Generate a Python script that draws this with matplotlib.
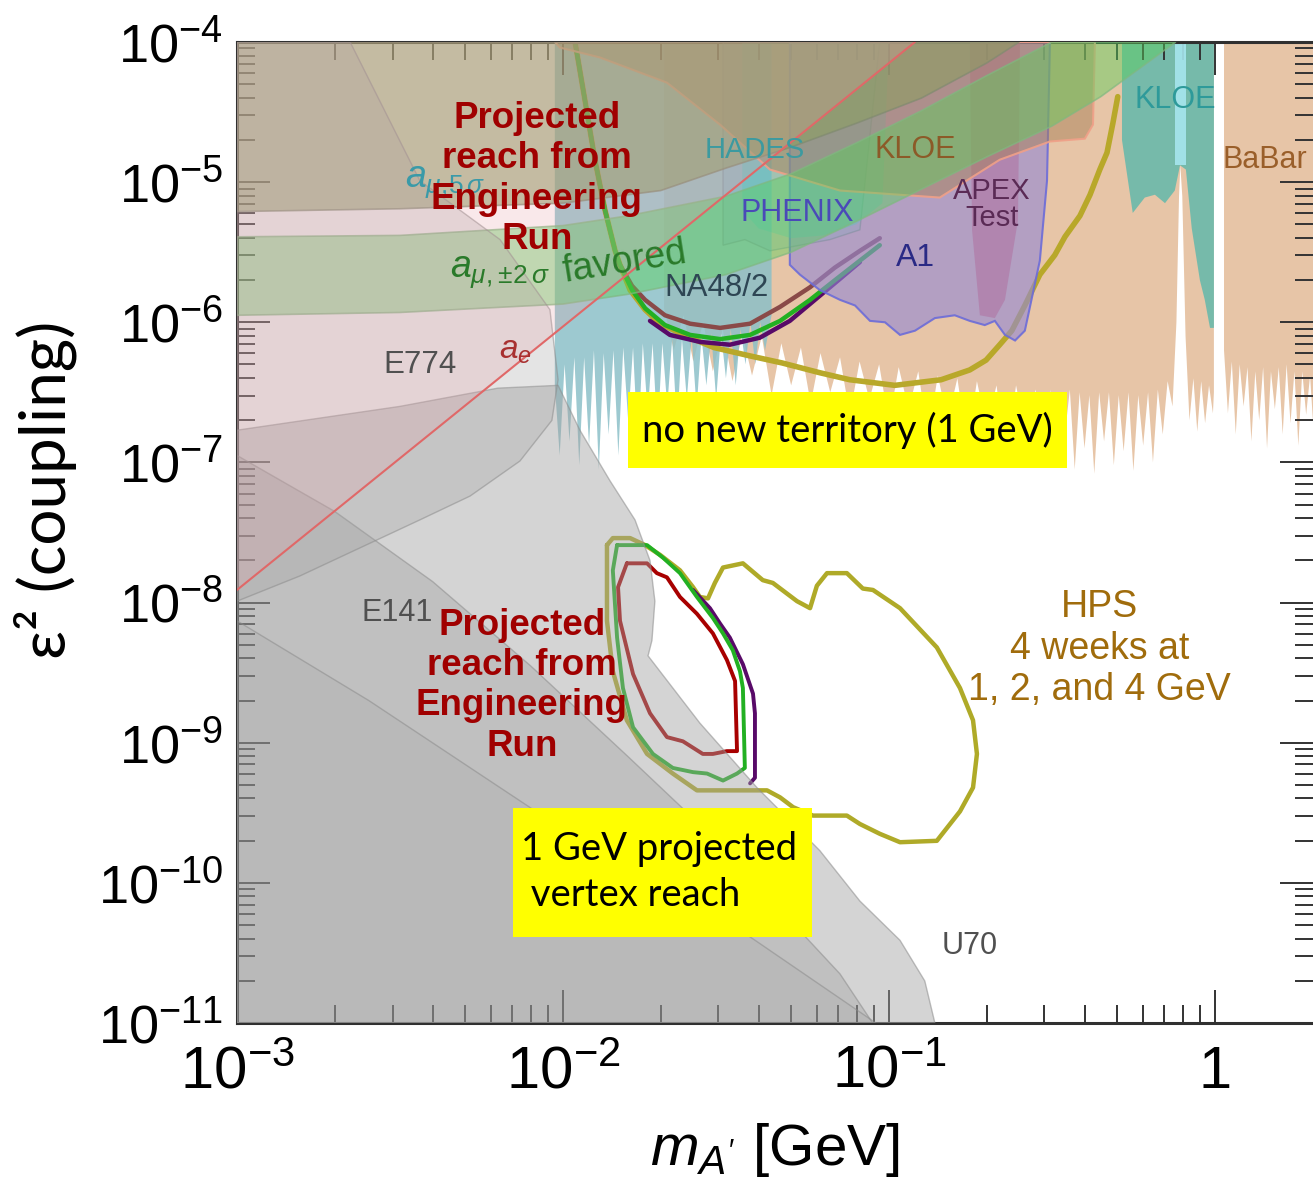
import numpy as np
import matplotlib
matplotlib.use('Agg')
import matplotlib.pyplot as plt
from matplotlib.colors import to_rgba
from matplotlib.patches import Rectangle
from matplotlib.ticker import FixedLocator, FixedFormatter, LogLocator, NullFormatter

plt.rcParams['font.family'] = ['Liberation Sans', 'DejaVu Sans']
plt.rcParams['mathtext.fontset'] = 'custom'
plt.rcParams['mathtext.rm'] = 'Liberation Sans'
plt.rcParams['mathtext.it'] = 'Liberation Sans:italic'
plt.rcParams['mathtext.bf'] = 'Liberation Sans:bold'

# every curve below is (log10 m_A' [GeV], log10 eps^2)

# ---- excluded regions -------------------------------------------------
babar_left = [(-1.69, -5.90), (-1.66, -6.20), (-1.63, -5.95), (-1.60, -6.28), (-1.57, -6.00),
              (-1.54, -6.35), (-1.51, -6.05), (-1.48, -6.42), (-1.45, -6.08), (-1.42, -6.38),
              (-1.39, -6.10), (-1.36, -6.52), (-1.33, -6.15), (-1.30, -6.45), (-1.27, -6.18),
              (-1.24, -6.58), (-1.21, -6.22), (-1.18, -6.50), (-1.15, -6.25), (-1.12, -6.66),
              (-1.09, -6.28), (-1.06, -6.55), (-1.03, -6.30), (-1.00, -6.72), (-0.97, -6.32),
              (-0.94, -6.62), (-0.91, -6.35), (-0.88, -6.82), (-0.85, -6.38), (-0.82, -6.70),
              (-0.79, -6.40), (-0.76, -6.88), (-0.73, -6.42), (-0.70, -6.75), (-0.67, -6.45),
              (-0.64, -6.96), (-0.61, -6.45), (-0.58, -6.80), (-0.55, -6.48),
              (-0.52, -7.02), (-0.505, -6.48), (-0.49, -6.95), (-0.475, -6.50), (-0.46, -6.80),
              (-0.445, -6.48), (-0.43, -7.05), (-0.415, -6.50), (-0.40, -6.90), (-0.385, -6.52),
              (-0.37, -7.08), (-0.355, -6.50), (-0.34, -6.85), (-0.325, -6.50), (-0.31, -7.02),
              (-0.295, -6.52), (-0.28, -6.92), (-0.265, -6.50), (-0.25, -7.06), (-0.235, -6.52),
              (-0.22, -6.88), (-0.205, -6.50), (-0.19, -7.00), (-0.175, -6.48), (-0.16, -6.80),
              (-0.145, -6.42), (-0.13, -6.60), (-0.118, -6.00), (-0.110, -5.10),
              (-0.106, -4.88), (-0.100, -5.10), (-0.090, -6.10), (-0.078, -6.70), (-0.066, -6.40),
              (-0.054, -6.78), (-0.042, -6.42), (-0.030, -6.72), (-0.018, -6.45), (-0.006, -6.65),
              (-0.003, -6.50), (-0.003, -4.0), (-1.69, -4.0)]
babar_right = [(0.028, -4.0), (0.028, -6.20), (0.040, -6.65), (0.052, -6.28), (0.064, -6.80),
               (0.076, -6.30), (0.088, -6.60), (0.100, -6.32), (0.112, -6.85), (0.124, -6.35),
               (0.136, -6.70), (0.148, -6.32), (0.160, -6.90), (0.172, -6.35), (0.184, -6.62),
               (0.196, -6.32), (0.208, -6.80), (0.220, -6.30), (0.232, -6.72), (0.244, -6.35),
               (0.256, -6.88), (0.268, -6.35), (0.280, -6.66), (0.292, -6.38), (0.304, -6.82),
               (0.31, -6.45), (0.31, -4.0)]
na48 = [(-2.025, -4.0), (-2.025, -6.45), (-2.01, -6.95), (-1.995, -6.30), (-1.98, -6.85),
        (-1.965, -6.25), (-1.95, -7.02), (-1.935, -6.25), (-1.92, -6.88), (-1.905, -6.20),
        (-1.89, -7.05), (-1.875, -6.22), (-1.86, -6.80), (-1.845, -6.20), (-1.83, -6.95),
        (-1.815, -6.18), (-1.80, -6.70), (-1.785, -6.18), (-1.77, -6.90), (-1.755, -6.15),
        (-1.74, -6.65), (-1.725, -6.15), (-1.71, -6.80), (-1.695, -6.15), (-1.68, -6.60),
        (-1.665, -6.12), (-1.65, -6.75), (-1.635, -6.12), (-1.62, -6.55), (-1.605, -6.10),
        (-1.59, -6.62), (-1.575, -6.10), (-1.56, -6.45), (-1.545, -6.08), (-1.53, -6.55),
        (-1.515, -6.08), (-1.50, -6.40), (-1.485, -6.05), (-1.47, -6.45), (-1.455, -6.05),
        (-1.44, -6.30), (-1.425, -6.00), (-1.41, -6.30), (-1.395, -6.00), (-1.38, -6.20),
        (-1.36, -5.95), (-1.36, -4.0)]
kloe_phi = [(-0.285, -4.0), (-0.285, -4.70), (-0.252, -5.22), (-0.215, -5.11), (-0.184, -5.09),
            (-0.153, -5.15), (-0.123, -5.06), (-0.107, -4.88), (-0.089, -4.91), (-0.071, -5.33),
            (-0.046, -5.70), (-0.031, -5.84), (-0.015, -6.04), (-0.003, -6.04), (-0.003, -4.0)]
kloe_strip = [(-0.123, -4.0), (-0.123, -4.88), (-0.089, -4.88), (-0.089, -4.0)]
a1 = [(-1.304, -4.0), (-0.506, -4.0), (-0.515, -4.99), (-0.537, -5.56), (-0.583, -6.06),
      (-0.613, -6.13), (-0.644, -6.09), (-0.675, -5.99), (-0.706, -6.02), (-0.752, -5.99),
      (-0.798, -5.95), (-0.859, -5.97), (-0.920, -6.06), (-0.966, -6.09), (-1.012, -6.00),
      (-1.058, -5.99), (-1.104, -5.88), (-1.150, -5.84), (-1.212, -5.77), (-1.273, -5.66),
      (-1.304, -5.59)]
apex = [(-0.752, -4.0), (-0.598, -4.0), (-0.604, -5.27), (-0.644, -5.84), (-0.675, -5.97),
        (-0.721, -5.95), (-0.745, -5.34)]
hades = [(-1.509, -4.0), (-1.509, -5.45), (-1.442, -5.41), (-1.365, -5.49), (-1.273, -5.45),
         (-1.181, -5.41), (-1.089, -5.34), (-1.028, -4.0)]
phenix = [(-1.45, -4.0), (-1.45, -5.20), (-1.40, -5.33), (-1.30, -5.40), (-1.20, -5.38),
          (-1.10, -5.30), (-1.02, -5.15), (-1.00, -4.0)]
kloe = [(-2.025, -4.0), (-2.009, -4.04), (-1.887, -4.11), (-1.681, -4.29), (-1.518, -4.59),
        (-1.365, -4.91), (-1.150, -5.06), (-0.844, -5.11), (-0.660, -4.84), (-0.506, -4.71),
        (-0.399, -4.69), (-0.374, -4.59), (-0.368, -4.0)]
amu_5sigma = [(-3.0, -5.21), (-2.5, -5.19), (-2.0, -5.15), (-1.7, -5.06), (-1.5, -4.90),
              (-1.3, -4.75), (-1.1, -4.58), (-0.9, -4.40), (-0.7, -4.15), (-0.6, -4.0), (-3.0, -4.0)]
amu_favored = [(-3.0, -5.39), (-2.5, -5.38), (-2.0, -5.31), (-1.8, -5.24), (-1.5, -5.10),
               (-1.3, -4.94), (-1.1, -4.72), (-0.9, -4.49), (-0.7, -4.24), (-0.5, -4.0),
               (-0.12, -4.0), (-0.35, -4.39), (-0.5, -4.60), (-0.7, -4.82), (-0.9, -5.05),
               (-1.1, -5.28), (-1.3, -5.50), (-1.5, -5.66), (-1.8, -5.80), (-2.0, -5.87),
               (-2.5, -5.93), (-3.0, -5.95)]
ae_bound = [(-3.0, -7.91), (-0.92, -4.0), (-3.0, -4.0)]

# beam dumps
e774 = [(-3.0, -4.0), (-2.653, -4.0), (-2.439, -4.99), (-2.193, -5.41), (-2.040, -5.91),
        (-2.015, -6.41), (-2.034, -6.70), (-2.132, -6.99), (-2.285, -7.24), (-2.439, -7.41),
        (-2.623, -7.61), (-2.807, -7.81), (-3.0, -7.99)]
e141 = [(-3.0, -6.77), (-2.5, -6.60), (-2.2, -6.47), (-2.015, -6.45), (-1.948, -6.77),
        (-1.856, -7.13), (-1.779, -7.41), (-1.733, -7.70), (-1.718, -7.99), (-1.727, -8.27),
        (-1.739, -8.38), (-1.580, -8.86), (-1.405, -9.32), (-1.212, -9.77), (-1.089, -10.13),
        (-0.966, -10.41), (-0.890, -10.70), (-0.859, -11.0), (-3.0, -11.0)]
e137 = [(-3.0, -6.95), (-2.70, -7.35), (-2.40, -7.85), (-2.10, -8.45), (-1.80, -9.10),
        (-1.55, -9.65), (-1.35, -10.15), (-1.15, -10.65), (-1.05, -11.0), (-3.0, -11.0)]
orsay = [(-3.0, -8.13), (-2.595, -8.70), (-2.083, -9.49), (-1.555, -10.18), (-1.040, -11.0),
         (-3.0, -11.0)]

# ---- HPS projections ----------------------------------------------------
hps_common = [(-1.963, -4.0), (-1.933, -4.41), (-1.902, -4.84), (-1.871, -5.20), (-1.840, -5.49),
              (-1.825, -5.59)]
hps_full = [(-1.794, -5.77), (-1.748, -5.91), (-1.702, -6.01), (-1.610, -6.11), (-1.537, -6.18),
            (-1.426, -6.24), (-1.328, -6.29), (-1.212, -6.36), (-1.120, -6.41), (-0.982, -6.45),
            (-0.840, -6.41), (-0.752, -6.34), (-0.702, -6.27), (-0.660, -6.16), (-0.623, -6.06),
            (-0.583, -5.88), (-0.537, -5.66), (-0.491, -5.52), (-0.460, -5.39), (-0.414, -5.24),
            (-0.383, -5.09), (-0.353, -4.91), (-0.331, -4.79), (-0.313, -4.58), (-0.298, -4.39)]
hps_1gev = [(-1.788, -5.74), (-1.748, -5.84), (-1.687, -5.95), (-1.610, -6.01), (-1.518, -6.04),
            (-1.426, -6.01), (-1.334, -5.89), (-1.242, -5.75), (-1.166, -5.61), (-1.089, -5.49),
            (-1.028, -5.40)]
hps_2gev = [(-1.788, -5.77), (-1.748, -5.90), (-1.687, -6.02), (-1.610, -6.09), (-1.518, -6.12),
            (-1.426, -6.09), (-1.334, -5.99), (-1.242, -5.84), (-1.166, -5.70), (-1.089, -5.56),
            (-1.028, -5.45)]
hps_4gev = [(-1.733, -5.99), (-1.672, -6.09), (-1.580, -6.14), (-1.488, -6.16), (-1.396, -6.11),
            (-1.304, -5.99), (-1.227, -5.84), (-1.150, -5.69), (-1.089, -5.57)]

vtx_4weeks = [(-1.865, -7.59), (-1.847, -7.54), (-1.794, -7.54), (-1.748, -7.59), (-1.702, -7.66),
              (-1.641, -7.77), (-1.601, -7.89), (-1.580, -7.96), (-1.555, -7.97), (-1.534, -7.86),
              (-1.509, -7.75), (-1.448, -7.72), (-1.387, -7.84), (-1.356, -7.86), (-1.282, -7.99),
              (-1.242, -8.04), (-1.221, -7.88), (-1.190, -7.79), (-1.129, -7.79), (-1.080, -7.90),
              (-1.049, -7.91), (-0.966, -8.04), (-0.853, -8.32), (-0.782, -8.61), (-0.742, -8.84),
              (-0.730, -9.08), (-0.742, -9.32), (-0.782, -9.49), (-0.853, -9.70), (-0.966, -9.71),
              (-1.028, -9.65), (-1.089, -9.58), (-1.129, -9.52), (-1.233, -9.52), (-1.294, -9.46),
              (-1.334, -9.39), (-1.374, -9.34), (-1.589, -9.34), (-1.663, -9.22), (-1.742, -9.08),
              (-1.804, -8.84), (-1.847, -8.49), (-1.865, -8.13), (-1.865, -7.59)]
vtx_green = [(-1.834, -7.59), (-1.742, -7.59), (-1.693, -7.68), (-1.641, -7.79), (-1.589, -7.96),
             (-1.540, -8.11), (-1.509, -8.22), (-1.479, -8.34), (-1.457, -8.49), (-1.448, -8.61),
             (-1.442, -9.18), (-1.466, -9.22), (-1.509, -9.27), (-1.558, -9.22), (-1.601, -9.21),
             (-1.663, -9.18), (-1.724, -9.08), (-1.785, -8.89), (-1.816, -8.61), (-1.834, -8.25),
             (-1.847, -7.77), (-1.834, -7.59)]
vtx_red = [(-1.804, -7.72), (-1.742, -7.72), (-1.712, -7.79), (-1.681, -7.82), (-1.641, -7.96),
           (-1.589, -8.08), (-1.540, -8.22), (-1.497, -8.41), (-1.472, -8.56), (-1.466, -9.06),
           (-1.497, -9.06), (-1.540, -9.08), (-1.571, -9.08), (-1.632, -8.99), (-1.681, -8.96),
           (-1.733, -8.79), (-1.785, -8.51), (-1.825, -8.13), (-1.831, -7.89), (-1.804, -7.72)]
vtx_purple = [(-1.601, -7.91), (-1.549, -8.04), (-1.518, -8.15), (-1.488, -8.25), (-1.448, -8.44),
              (-1.417, -8.65), (-1.411, -8.79), (-1.411, -9.25), (-1.426, -9.29)]

x_major = [-3, -2, -1, 0]
x_tick_labels = [r'$10^{-3}$', r'$10^{-2}$', r'$10^{-1}$', '1']
y_major = [-11, -10, -9, -8, -7, -6, -5, -4]
y_tick_labels = [r'$10^{-11}$', r'$10^{-10}$', r'$10^{-9}$', r'$10^{-8}$',
                 r'$10^{-7}$', r'$10^{-6}$', r'$10^{-5}$', r'$10^{-4}$']


def xy(pts):
    lm, le = np.array(pts).T
    return 10 ** lm, 10 ** le


def region(pts, fc, alpha, ec='none', lw=0.0, z=1):
    x, y = xy(pts)
    ax.fill(x, y, facecolor=to_rgba(fc, alpha), edgecolor=ec, linewidth=lw, zorder=z)


def curve(pts, color, lw, z, alpha=1.0):
    x, y = xy(pts)
    ax.plot(x, y, color=color, lw=lw, zorder=z, alpha=alpha,
            solid_joinstyle='round', solid_capstyle='round')


fig = plt.figure(figsize=(13.13, 11.78), dpi=100)
ax = fig.add_axes([237 / 1313, 155 / 1178, 1076 / 1313, 981 / 1178])
ax.set_xscale('log')
ax.set_yscale('log')

# excluded regions
region(babar_left, '#e3bb98', 0.85, z=1)
region(babar_right, '#e3bb98', 0.85, z=1)
region(na48, '#8cc0c8', 0.85, z=1.2)
region(kloe_phi, '#5ab8ac', 0.8, z=1.5)
region(kloe_strip, '#a6e6ee', 0.9, z=1.6)

# HPS full-run reach (upper)
curve(hps_common + hps_full, '#b8a82a', 4.0, 2)
curve(hps_common + hps_1gev, '#8a4a48', 3.2, 2.1)
curve(hps_common + hps_2gev, '#22b022', 3.2, 2.2)
curve(hps_4gev, '#580a68', 3.2, 2.05)

region(a1, '#9488d4', 0.62, ec=to_rgba('#6c6cd8', 0.9), lw=1.5, z=3)
region(apex, '#b070a0', 0.55, z=3.1)
region(hades, '#7aa8c0', 0.25, ec=to_rgba('#708890', 0.4), lw=1, z=3.2)
region(phenix, '#40d0c0', 0.3, z=3.3)
region(kloe, '#a88058', 0.5, ec=to_rgba('#f0a088', 0.9), lw=1.5, z=3.5)
region(amu_5sigma, '#8c9e62', 0.6, ec=to_rgba('#808a70', 0.7), lw=1.2, z=4)
region(amu_favored, '#5ad05a', 0.45, ec=to_rgba('#80b880', 0.7), lw=1.2, z=4.1)

# HPS vertex reach (lower)
curve(vtx_4weeks, '#afaa28', 3.2, 5)
curve(vtx_green, '#22b022', 2.8, 5.1)
curve(vtx_red, '#a80000', 2.8, 5.2)
curve(vtx_purple, '#580a68', 2.8, 5.05)

gray_ec = to_rgba('#8c8c8c', 0.55)
region(e141, '#a0a0a0', 0.45, ec=gray_ec, lw=1.0, z=6)
region(e137, '#888888', 0.26, ec=gray_ec, lw=1.0, z=6.1)
region(orsay, '#888888', 0.12, ec=gray_ec, lw=1.0, z=6.2)
region(e774, '#a0a0a0', 0.28, ec=gray_ec, lw=1.0, z=6.3)

region(ae_bound, '#e8a0a8', 0.24, z=7)
curve(ae_bound[:2], '#e06868', 1.5, 7.1)

# experiment labels
def label(lm, le, s, color, size=22, z=10, **kw):
    ax.text(10 ** lm, 10 ** le, s, color=color, fontsize=size, ha='center', va='center',
            zorder=z, **kw)

label(-1.411, -4.771, 'HADES', '#3c9aa0', 21)
label(-0.920, -4.771, 'KLOE', '#8c5a28', 22)
label(-0.123, -4.414, 'KLOE', '#2e9a9a', 22)
label(0.153, -4.843, 'BaBar', '#9a5f2a', 22)
label(-0.684, -5.157, 'APEX\nTest', '#5a2a55', 21, linespacing=0.95)
label(-1.282, -5.221, 'PHENIX', '#4a4ab8', 22)
label(-0.920, -5.543, 'A1', '#2a2a85', 23)
label(-1.528, -5.757, 'NA48/2', '#2e4654', 22.5)
label(-1.810, -5.571, 'favored', '#2a7a2a', 27, rotation=9)
label(-2.193, -5.65, r'$a_{\mu,\!\pm\!2\,\sigma}$', '#2a7a2a', 27)
label(-2.362, -5.007, r'$a_{\mu,\!5\,\sigma}$', '#3a9aa8', 27)
label(-2.147, -6.2, r'$a_e$', '#a83030', 24)
label(-2.439, -6.307, 'E774', '#505050', 22.5)
label(-2.509, -8.071, 'E141', '#505050', 22)
label(-0.752, -10.45, 'U70', '#505050', 22)

eng = 'Projected\nreach from\nEngineering\nRun'
label(-2.080, -4.979, eng, '#a00000', 26.5, z=11, fontweight='bold', linespacing=1.2)
label(-2.126, -8.593, eng, '#a00000', 26.5, z=11, fontweight='bold', linespacing=1.2)
label(-0.353, -8.329, 'HPS\n4 weeks at\n1, 2, and 4 GeV', '#a06c0c', 27, linespacing=1.2)

# yellow call-out boxes (axes fractions)
ax.add_patch(Rectangle((0.3634, 0.5657), 0.408, 0.0775, transform=ax.transAxes,
                       facecolor='#ffff00', edgecolor='none', zorder=12))
ax.add_patch(Rectangle((0.2565, 0.0877), 0.2779, 0.1315, transform=ax.transAxes,
                       facecolor='#ffff00', edgecolor='none', zorder=12))
ax.text(0.5669, 0.6045, 'no new territory (1 GeV)', transform=ax.transAxes, ha='center',
        va='center', fontsize=27.5, family=['Lato', 'DejaVu Sans'], zorder=13)
ax.text(0.2639, 0.1539, '1 GeV projected\n vertex reach', transform=ax.transAxes, ha='left',
        va='center', fontsize=27.5, family=['Lato', 'DejaVu Sans'], linespacing=1.35, zorder=13)

# axes
ax.set_xlim(1e-3, 10 ** 0.301)
ax.set_ylim(1e-11, 1e-4)
ax.xaxis.set_major_locator(FixedLocator(10.0 ** np.array(x_major)))
ax.xaxis.set_major_formatter(FixedFormatter(x_tick_labels))
ax.yaxis.set_major_locator(FixedLocator(10.0 ** np.array(y_major)))
ax.yaxis.set_major_formatter(FixedFormatter(y_tick_labels))
ax.xaxis.set_minor_locator(LogLocator(base=10, subs=np.arange(2, 10), numticks=20))
ax.yaxis.set_minor_locator(LogLocator(base=10, subs=np.arange(2, 10), numticks=20))
ax.xaxis.set_minor_formatter(NullFormatter())
ax.yaxis.set_minor_formatter(NullFormatter())
ax.tick_params(which='both', direction='in', top=True, right=True, color='#333333', width=1.4)
ax.tick_params(which='major', length=24)
ax.tick_params(which='minor', length=13)
ax.tick_params(axis='y', which='major', labelsize=39, pad=10)
ax.tick_params(axis='x', which='major', labelsize=43, pad=16)
for s in ('left', 'bottom', 'top'):
    ax.spines[s].set_linewidth(2.2)
    ax.spines[s].set_color('#303030')
ax.spines['right'].set_visible(False)

fig.text(775 / 1313, 1 - 1150 / 1178, r"$m_{A'}$ [GeV]", ha='center', va='center', fontsize=42)
fig.text(45 / 1313, 1 - 490 / 1178, 'ε² (coupling)', rotation=90, ha='center', va='center',
         fontsize=46, family=['Lato', 'DejaVu Sans'])

fig.savefig('out.png', dpi=100)
